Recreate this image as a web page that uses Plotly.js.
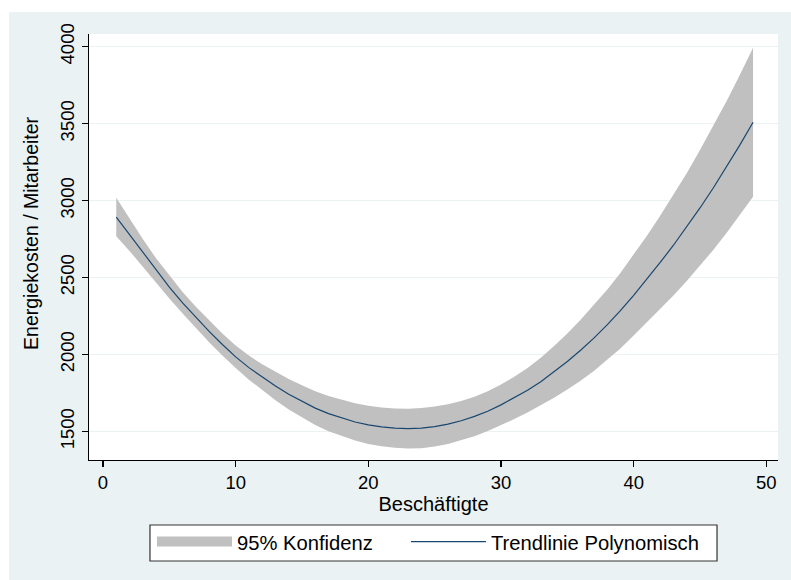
<!DOCTYPE html>
<html>
<head>
<meta charset="utf-8">
<script src="https://cdn.plot.ly/plotly-3.0.1.min.js"></script>
<style>
  html, body { margin: 0; padding: 0; background: #ffffff; width: 791px; height: 580px; overflow: hidden; }
  #chart { position: absolute; left: 9px; top: 12px; width: 782px; height: 568px; }
</style>
</head>
<body>
<div id="chart"></div>
<script>
// Beschäftigte (x)
const beschaeftigte = [1,2,3,4,5,6,7,8,9,10,11,12,13,14,15,16,17,18,19,20,21,22,23,24,25,
  26,27,28,29,30,31,32,33,34,35,36,37,38,39,40,41,42,43,44,45,46,47,48,49];
// Trendlinie Polynomisch
const trendlinie = [2893,2778,2660,2545,2438,2336,2240,2150,2065,1985,1915,1852,1795,1742,1695,
  1652,1616,1587,1562,1543,1530,1522,1519,1522,1532,1548,1570,1598,1632,1673,1718,1768,1824,
  1887,1955,2028,2107,2193,2285,2385,2490,2598,2710,2828,2952,3082,3218,3360,3509];
// 95% Konfidenz, upper bound
const konfidenzOben = [3018,2883,2750,2625,2512,2406,2310,2220,2136,2058,1993,1937,1887,1841,
  1800,1762,1730,1705,1683,1667,1656,1650,1648,1652,1662,1677,1698,1726,1761,1805,1855,1913,
  1979,2055,2137,2226,2321,2421,2530,2647,2772,2901,3036,3178,3328,3485,3646,3815,3993];
// 95% Konfidenz, lower bound
const konfidenzUnten = [2768,2673,2570,2465,2364,2266,2170,2080,1994,1912,1837,1767,1703,1643,
  1590,1542,1502,1469,1441,1419,1404,1394,1390,1392,1402,1419,1442,1470,1503,1541,1581,1623,
  1669,1719,1773,1830,1893,1965,2040,2123,2208,2295,2384,2478,2576,2679,2790,2905,3025];

const xTicks = [0, 10, 20, 30, 40, 50];
const yTicks = [1500, 2000, 2500, 3000, 3500, 4000];
const legendNames = ["95% Konfidenz", "Trendlinie Polynomisch"];
const xTitle = "Beschäftigte";
const yTitle = "Energiekosten / Mitarbeiter";

const FONT = "Liberation Sans, Arial, Helvetica, sans-serif";
const BAND = "#c0c0c0";
const NAVY = "#1a476f";
const PANEL = "#eaf2f3";

const traces = [
  {
    x: beschaeftigte, y: konfidenzUnten, type: "scatter", mode: "lines",
    line: { width: 0, color: BAND }, showlegend: false, hoverinfo: "skip",
    legendgroup: "ci"
  },
  {
    x: beschaeftigte, y: konfidenzOben, type: "scatter", mode: "lines",
    line: { width: 0, color: BAND }, fill: "tonexty", fillcolor: BAND,
    showlegend: false, legendgroup: "ci", name: legendNames[0]
  },
  {
    // legend key for the confidence band (no data of its own)
    x: [null], y: [null], type: "scatter", mode: "lines",
    line: { width: 20, color: BAND }, legendgroup: "ci", name: legendNames[0],
    legend: "legend"
  },
  {
    x: beschaeftigte, y: trendlinie, type: "scatter", mode: "lines",
    line: { width: 1.2, color: NAVY }, name: legendNames[1],
    legend: "legend2"
  }
];

const legendCommon = {
  orientation: "h", y: -0.1455, yanchor: "top", xanchor: "left",
  bgcolor: "rgba(0,0,0,0)", borderwidth: 0,
  itemwidth: 75,
  font: { family: FONT, size: 20.2, color: "#000000" }
};

const layout = {
  width: 782, height: 568,
  margin: { l: 80, r: 13, t: 22, b: 120 },
  paper_bgcolor: PANEL,
  plot_bgcolor: "#ffffff",
  font: { family: FONT, color: "#000000", size: 18.5 },
  showlegend: true,
  xaxis: {
    range: [-1.055, 50.88],
    tickvals: xTicks, ticktext: xTicks.map(String),
    ticks: "outside", ticklen: 6, tickwidth: 1.2, tickcolor: "#000000",
    showline: true, linecolor: "#000000", linewidth: 1.2,
    showgrid: false, zeroline: false,
    tickfont: { family: FONT, size: 18.5, color: "#000000" },
    title: { text: xTitle, font: { family: FONT, size: 20, color: "#000000" }, standoff: 2 }
  },
  yaxis: {
    range: [1315, 4082],
    tickvals: yTicks, ticktext: yTicks.map(String),
    tickangle: -90,
    ticks: "outside", ticklen: 6, tickwidth: 1.2, tickcolor: "#000000",
    showline: true, linecolor: "#000000", linewidth: 1.2,
    showgrid: true, gridcolor: PANEL, gridwidth: 1, zeroline: false,
    tickfont: { family: FONT, size: 18.5, color: "#000000" }
  },
  annotations: [
    {
      text: yTitle, xref: "paper", yref: "paper",
      x: -0.0842, y: 0.533, xanchor: "center", yanchor: "middle",
      textangle: -90, showarrow: false,
      font: { family: FONT, size: 19.5, color: "#000000" }
    }
  ],
  shapes: [
    {
      // legend frame
      type: "rect", xref: "paper", yref: "paper", layer: "below",
      x0: 0.0885, x1: 0.9115, y0: -0.2371, y1: -0.1526,
      fillcolor: "#ffffff", line: { color: "#333333", width: 1.2 }
    }
  ],
  legend: Object.assign({}, legendCommon, { x: 0.0914 }),
  legend2: Object.assign({}, legendCommon, { x: 0.460 })
};

Plotly.newPlot("chart", traces, layout, { displayModeBar: false, staticPlot: true });
</script>
</body>
</html>
